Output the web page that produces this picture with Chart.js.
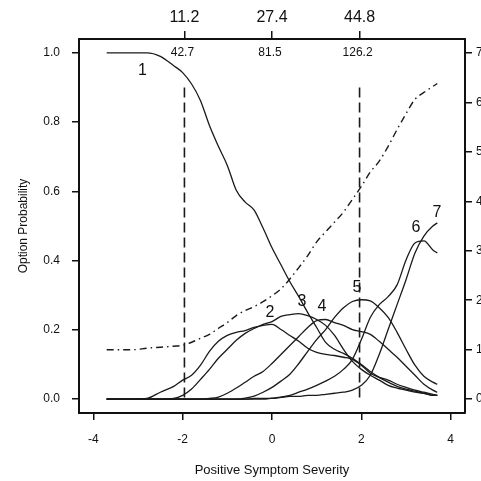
<!DOCTYPE html>
<html><head><meta charset="utf-8">
<script src="https://cdn.jsdelivr.net/npm/chart.js@4"></script>
<style>html,body{margin:0;padding:0;background:#fff}#wrap{width:481px;height:481px}</style>
</head><body><div id="wrap"><canvas id="c"></canvas></div>
<script>
// ---- data ----
const xGrid = [-3.7,-3.4,-3.1,-2.8,-2.5,-2.2,-2.0,-1.8,-1.6,-1.4,-1.2,-1.0,-0.8,-0.6,-0.4,-0.2,0,0.2,0.4,0.6,0.8,1.0,1.2,1.4,1.6,1.8,2.0,2.2,2.4,2.6,2.8,3.0,3.2,3.4,3.6,3.7];
const option1 = [1.0,1.0,1.0,1.0,0.99,0.963,0.943,0.91,0.862,0.79,0.73,0.675,0.603,0.569,0.546,0.494,0.437,0.388,0.339,0.296,0.25,0.207,0.164,0.144,0.132,0.118,0.10,0.08,0.063,0.049,0.037,0.029,0.023,0.017,0.011,0.011];
const option2 = [0,0,0,0.002,0.02,0.037,0.055,0.069,0.098,0.138,0.167,0.184,0.193,0.198,0.207,0.213,0.216,0.201,0.184,0.167,0.147,0.135,0.129,0.126,0.121,0.115,0.098,0.075,0.063,0.055,0.043,0.034,0.026,0.02,0.014,0.011];
const option3 = [0,0,0,0,0,0.002,0.011,0.029,0.057,0.086,0.118,0.144,0.17,0.19,0.204,0.216,0.224,0.239,0.244,0.247,0.241,0.23,0.213,0.184,0.144,0.109,0.086,0.069,0.055,0.04,0.032,0.026,0.02,0.017,0.011,0.011];
const option4 = [0,0,0,0,0,0,0,0,0,0.002,0.006,0.017,0.032,0.049,0.066,0.08,0.103,0.129,0.155,0.181,0.207,0.227,0.23,0.221,0.213,0.201,0.195,0.187,0.167,0.144,0.121,0.095,0.069,0.043,0.026,0.02];
const option5 = [0,0,0,0,0,0,0,0,0,0,0,0,0,0.003,0.009,0.02,0.034,0.052,0.072,0.103,0.138,0.172,0.201,0.236,0.264,0.282,0.287,0.284,0.264,0.236,0.193,0.144,0.098,0.066,0.049,0.043];
const option6 = [0,0,0,0,0,0,0,0,0,0,0,0,0,0,0,0,0.003,0.006,0.011,0.02,0.029,0.04,0.052,0.066,0.086,0.115,0.172,0.236,0.273,0.296,0.33,0.402,0.451,0.457,0.431,0.422];
const option7 = [0,0,0,0,0,0,0,0,0,0,0,0,0,0,0.002,0.002,0.002,0.005,0.008,0.008,0.011,0.011,0.014,0.017,0.02,0.026,0.04,0.069,0.129,0.201,0.273,0.345,0.422,0.471,0.5,0.509];
const expectedScore = [1.0,1.0,1.0,1.03,1.05,1.07,1.09,1.15,1.23,1.31,1.43,1.55,1.69,1.79,1.87,1.97,2.09,2.23,2.43,2.66,2.90,3.18,3.38,3.58,3.78,4.04,4.30,4.59,4.81,5.11,5.45,5.77,6.06,6.20,6.32,6.38];
const optionNames = ['1','2','3','4','5','6','7'];

const bottomTicks = [-4,-2,0,2,4];
const leftTicks = [0,0.2,0.4,0.6,0.8,1.0];
const rightTicks = [0,1,2,3,4,5,6,7];
const topTickPos = [-1.96,0,1.96];
const topTickLabels = ['11.2','27.4','44.8'];
const innerLabels = ['42.7','81.5','126.2'];
const cutLines = [-1.96,1.96];
const cutLineTop = 0.9;

// ---- chart ----
const FONT = 'Liberation Sans, Arial, sans-serif';
const INK = '#111';
const series = [option1,option2,option3,option4,option5,option6,option7];
const labelAt = [[-2.9,0.948],[-0.045,0.25],[0.67,0.282],[1.12,0.267],[1.9,0.322],[3.22,0.494],[3.69,0.54]];

const datasets = series.map((arr,k)=>({
  label: optionNames[k],
  data: xGrid.map((x,i)=>({x, y: arr[i]})),
  xAxisID:'x', yAxisID:'y',
  borderColor:'#1a1a1a', borderWidth:1.3, pointRadius:0,
  cubicInterpolationMode:'monotone', fill:false
}));
datasets.push({
  label:'expected',
  data: xGrid.map((x,i)=>({x, y: expectedScore[i]})),
  xAxisID:'x', yAxisID:'y2',
  borderColor:'#1a1a1a', borderWidth:1.4, pointRadius:0,
  borderDash:[7,4,1.5,4], cubicInterpolationMode:'monotone', fill:false
});
cutLines.forEach(c=>datasets.push({
  label:'cut',
  data:[{x:c,y:cutLineTop},{x:c,y:0}],
  xAxisID:'x', yAxisID:'y',
  borderColor:'#1a1a1a', borderWidth:1.6, pointRadius:0, borderDash:[10,5]
}));

const textPlugin = {
  id:'texts',
  afterDatasetsDraw(chart){
    const ctx = chart.ctx, sx = chart.scales.x, sy = chart.scales.y;
    ctx.save();
    ctx.fillStyle = INK;
    ctx.textAlign = 'center'; ctx.textBaseline = 'middle';
    ctx.font = '12px ' + FONT;
    topTickPos.forEach((v,i)=>{
      ctx.fillText(innerLabels[i], sx.getPixelForValue(v) - 2, sy.top + 14);
    });
    ctx.font = '16px ' + FONT;
    labelAt.forEach((p,i)=>{
      ctx.fillText(optionNames[i], sx.getPixelForValue(p[0]), sy.getPixelForValue(p[1]));
    });
    ctx.restore();
  }
};

new Chart(document.getElementById('c'), {
  type:'line',
  data:{datasets},
  options:{
    responsive:true, maintainAspectRatio:false, animation:false,
    layout:{padding:0},
    plugins:{legend:{display:false}, tooltip:{enabled:false}},
    scales:{
      x:{type:'linear', position:'bottom', min:-4.32, max:4.32,
        afterBuildTicks:s=>{s.ticks = bottomTicks.map(v=>({value:v}));},
        ticks:{callback:v=>String(v), font:{size:12,family:FONT}, color:INK, padding:12, maxRotation:0, autoSkip:false},
        grid:{drawOnChartArea:false, tickLength:7, color:INK, lineWidth:1.5},
        border:{color:INK, width:2},
        title:{display:true, text:'Positive Symptom Severity', font:{size:13,family:FONT}, color:INK, padding:{top:0,bottom:3}},
        afterFit:s=>{s.height = 68;}
      },
      x2:{type:'linear', position:'top', min:-4.32, max:4.32,
        afterBuildTicks:s=>{s.ticks = topTickPos.map(v=>({value:v}));},
        ticks:{callback:(v,i)=>topTickLabels[i], font:{size:16,family:FONT}, color:INK, padding:4, maxRotation:0, autoSkip:false},
        grid:{drawOnChartArea:false, tickLength:8, color:INK, lineWidth:1.5},
        border:{color:INK, width:2},
        afterFit:s=>{s.height = 39;}
      },
      y:{type:'linear', position:'left', min:-0.04, max:1.04,
        afterBuildTicks:s=>{s.ticks = leftTicks.map(v=>({value:v}));},
        ticks:{callback:v=>Number(v).toFixed(1), font:{size:12,family:FONT}, color:INK, padding:12},
        grid:{drawOnChartArea:false, tickLength:7, color:INK, lineWidth:1.5},
        border:{color:INK, width:2},
        title:{display:true, text:'Option Probability', font:{size:12,family:FONT}, color:INK, padding:{top:16,bottom:0}},
        afterFit:s=>{s.width = 79;}
      },
      y2:{type:'linear', position:'right', min:-0.28, max:7.28,
        afterBuildTicks:s=>{s.ticks = rightTicks.map(v=>({value:v}));},
        ticks:{callback:v=>String(v), font:{size:12,family:FONT}, color:INK, padding:4},
        grid:{drawOnChartArea:false, tickLength:7, color:INK, lineWidth:1.5},
        border:{color:INK, width:2},
        afterFit:s=>{s.width = 16;}
      }
    }
  },
  plugins:[textPlugin]
});
</script>
</body></html>
